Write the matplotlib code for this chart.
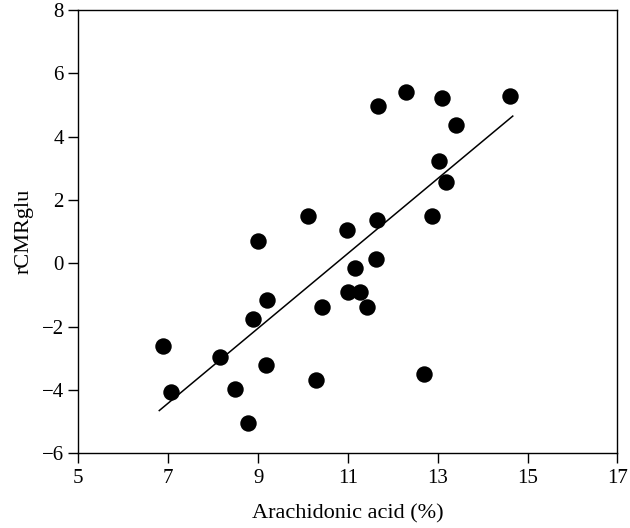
import matplotlib
matplotlib.use("Agg")
import matplotlib.pyplot as plt

plt.rcParams['font.family'] = ['Liberation Serif', 'DejaVu Serif']

arachidonic = [6.88, 7.05, 8.15, 8.48, 8.78, 8.88, 9.0, 9.2, 9.18, 10.12, 10.28, 10.42,
               10.98, 11.0, 11.15, 11.28, 11.42, 11.62, 11.65, 11.67, 12.30, 12.7,
               12.87, 13.02, 13.10, 13.18, 13.41, 14.60]
rcmrglu = [-2.6, -4.07, -2.95, -3.98, -5.05, -1.77, 0.72, -1.15, -3.2, 1.48, -3.7, -1.38,
           1.05, -0.92, -0.15, -0.9, -1.38, 0.15, 1.38, 4.98, 5.42, -3.48,
           1.48, 3.23, 5.23, 2.58, 4.38, 5.28]
fit_x = [6.8, 14.67]
fit_y = [-4.65, 4.65]
xticks = [5, 7, 9, 11, 13, 15, 17]
yticks = [-6, -4, -2, 0, 2, 4, 6, 8]

fig = plt.figure(figsize=(6.3, 5.28), dpi=100)
ax = fig.add_axes([0.1245, 0.1415, 0.8555, 0.8395])
ax.plot(fit_x, fit_y, color='black', lw=1.1, zorder=2)
ax.scatter(arachidonic, rcmrglu, s=140, color='black', zorder=3, linewidths=0)
ax.set_xlim(5, 17)
ax.set_ylim(-6, 8)
ax.set_xticks(xticks)
ax.set_yticks(yticks)
ax.set_yticklabels([str(v).replace('-', '\u2212') for v in yticks])
ax.tick_params(direction='out', length=7, width=1, labelsize=15, top=False, right=False)
ax.tick_params(axis='x', pad=4)
for s in ax.spines.values():
    s.set_linewidth(1)
ax.set_xlabel('Arachidonic acid (%)', fontsize=16, labelpad=12)
ax.set_ylabel('rCMRglu', fontsize=16, labelpad=6)
fig.savefig('out.png', dpi=100)
